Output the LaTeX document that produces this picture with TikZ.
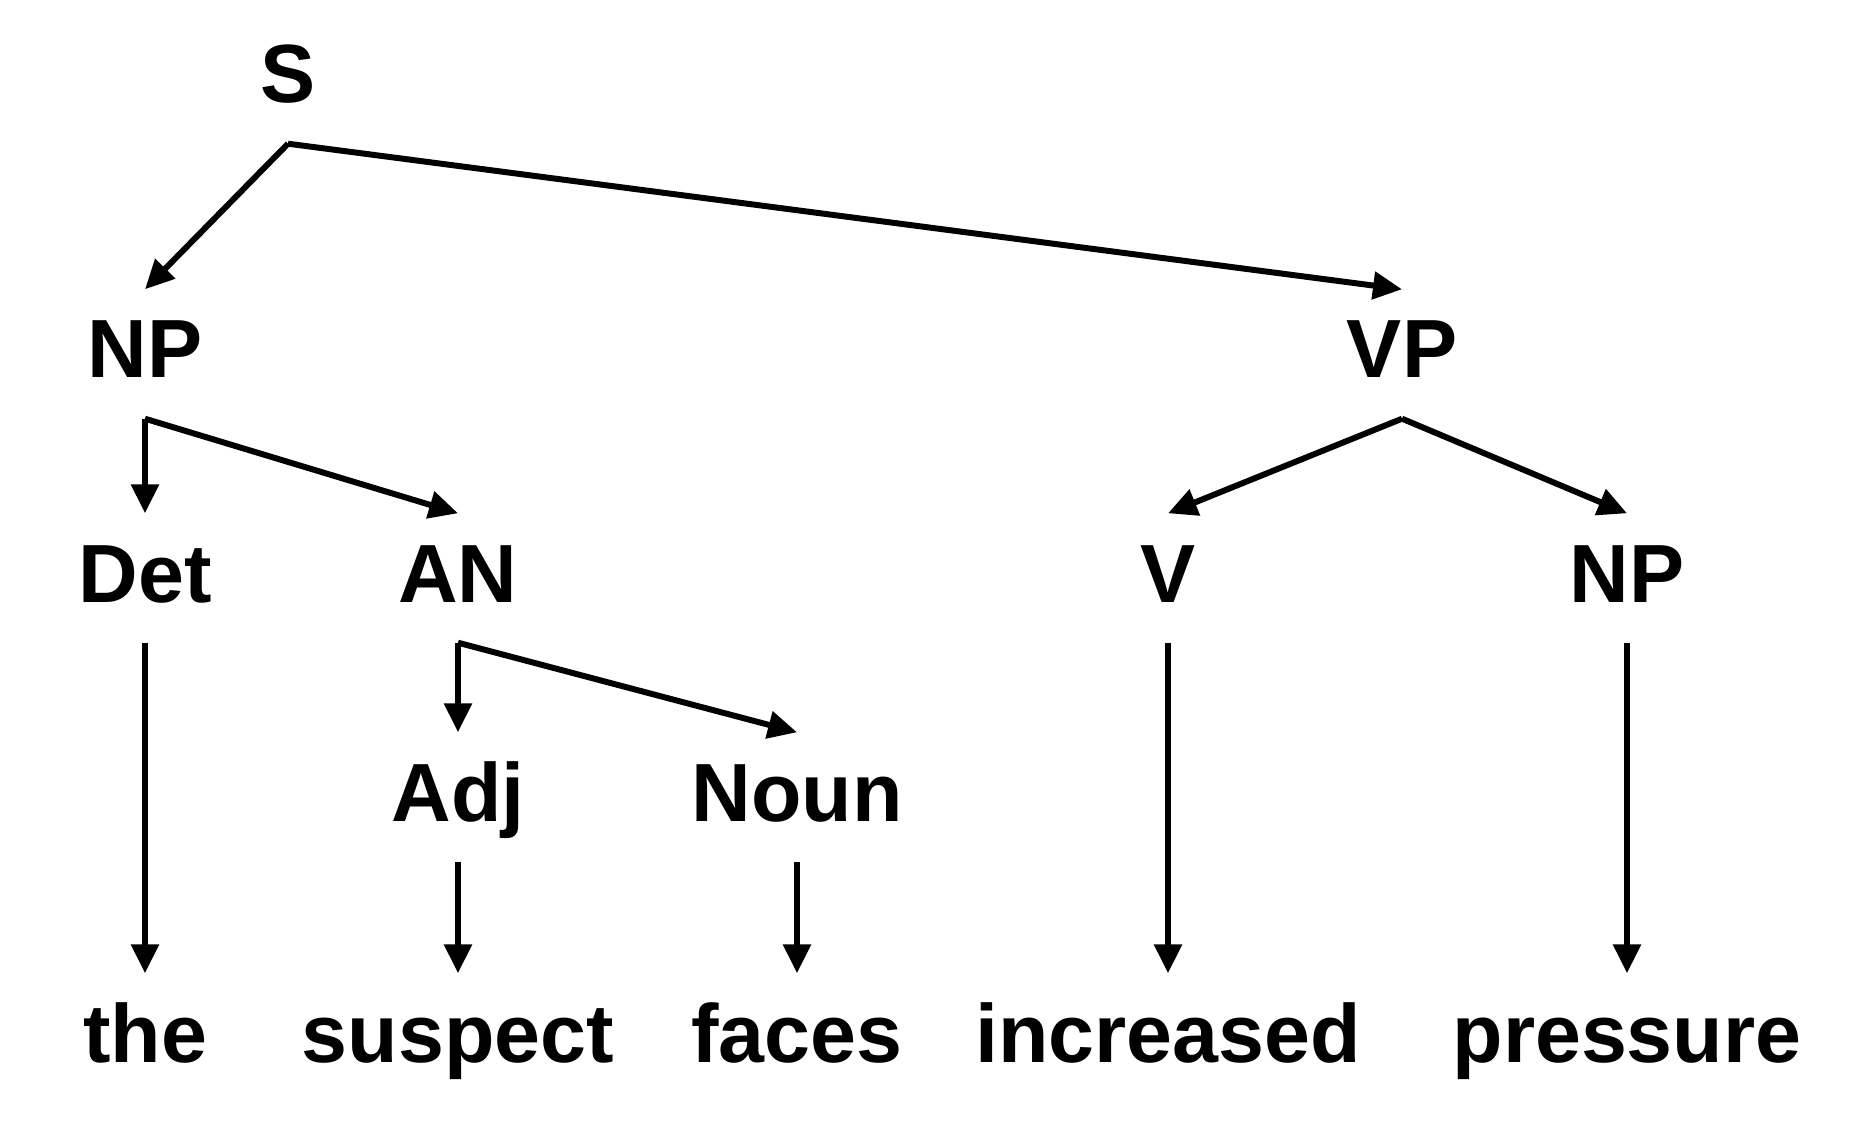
\documentclass[tikz,border=0pt]{standalone}
\usepackage{fontspec}
\setmainfont{Liberation Sans}
\usetikzlibrary{arrows.meta}

\begin{document}
\begin{tikzpicture}[x=0.1mm, y=-0.1mm,
    lbl/.style={anchor=base, inner sep=0pt, text height=8.8mm, text depth=4mm,
      font=\fontsize{23.5}{28}\selectfont\bfseries},
    arr/.style={line width=1.7pt, -{Triangle[length=2.9mm, width=2.7mm]}}]
    \useasboundingbox (0,0) rectangle (1852,1131);

    % phrase labels
    \node[lbl] (s) at (288,103) {S};
    \node[lbl] (np) at (145,378) {NP};
    \node[lbl] (vp) at (1402,378) {VP};
    \node[lbl] (det) at (145,602) {Det};
    \node[lbl] (an) at (458,602) {AN};
    \node[lbl] (v) at (1168,602) {V};
    \node[lbl] (np2) at (1627,602) {NP};
    \node[lbl] (adj) at (458,821) {Adj};
    \node[lbl] (noun) at (797,821) {Noun};

    % words
    \node[lbl] (the) at (145,1062) {the};
    \node[lbl] (suspect) at (458,1062) {suspect};
    \node[lbl] (faces) at (797,1062) {faces};
    \node[lbl] (increased) at (1168,1062) {increased};
    \node[lbl] (pressure) at (1627,1062) {pressure};

    % branches
    \draw[arr] (s.south) -- (np.north);
    \draw[arr] (s.south) -- (vp.north);
    \draw[arr] (np.south) -- (det.north);
    \draw[arr] (np.south) -- (an.north);
    \draw[arr] (vp.south) -- (v.north);
    \draw[arr] (vp.south) -- (np2.north);
    \draw[arr] (an.south) -- (adj.north);
    \draw[arr] (an.south) -- (noun.north);

    % down to the words
    \foreach \a/\b in {det/the, adj/suspect, noun/faces, v/increased, np2/pressure}
      \draw[arr] (\a.south) -- (\b.north);
\end{tikzpicture}
\end{document}
